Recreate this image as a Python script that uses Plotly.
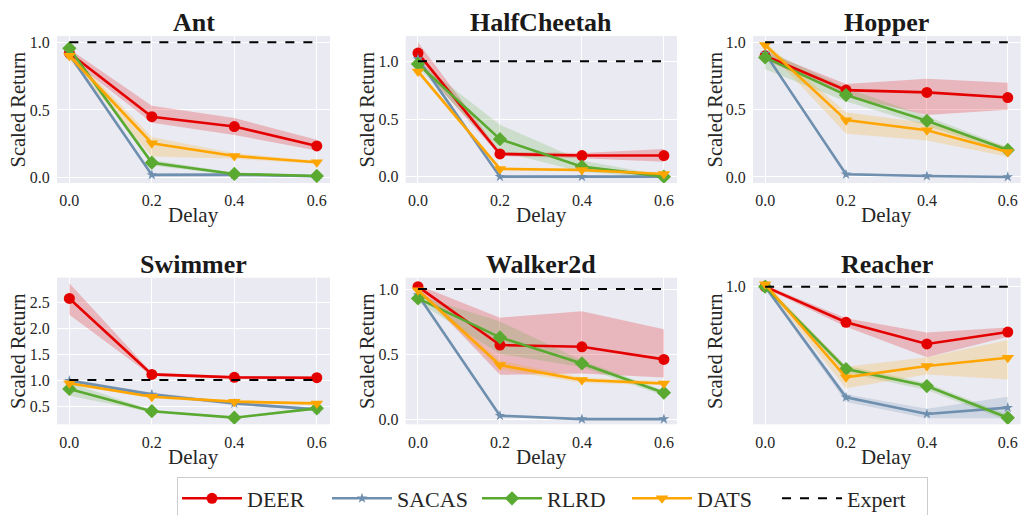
import plotly.graph_objects as go

delays = [0.0, 0.2, 0.4, 0.6]
x_ticks = [0.0, 0.2, 0.4, 0.6]
x_tick_text = ["0.0", "0.2", "0.4", "0.6"]
methods = ["DEER", "SACAS", "RLRD", "DATS"]
envs = ["Ant", "HalfCheetah", "Hopper", "Swimmer", "Walker2d", "Reacher"]
expert_level = 1.0

# ---- mean values / band bounds per environment ----
ant_mean = {"DEER": [0.92, 0.45, 0.377, 0.234], "SACAS": [0.91, 0.02, 0.022, 0.01],
            "RLRD": [0.955, 0.11, 0.027, 0.012], "DATS": [0.90, 0.254, 0.16, 0.113]}
ant_lo = {"DEER": [0.88, 0.406, 0.315, 0.20], "SACAS": [0.89, 0.01, 0.012, 0.0],
          "RLRD": [0.94, 0.09, 0.017, 0.005], "DATS": [0.87, 0.155, 0.14, 0.10]}
ant_hi = {"DEER": [0.95, 0.53, 0.44, 0.28], "SACAS": [0.93, 0.03, 0.032, 0.02],
          "RLRD": [0.965, 0.13, 0.037, 0.02], "DATS": [0.93, 0.30, 0.18, 0.125]}

hc_mean = {"DEER": [1.072, 0.197, 0.183, 0.183], "SACAS": [1.02, 0.0, 0.0, 0.0],
           "RLRD": [0.977, 0.325, 0.087, 0.0], "DATS": [0.913, 0.067, 0.058, 0.023]}
hc_lo = {"DEER": [0.98, 0.18, 0.16, 0.13], "SACAS": [1.0, -0.01, -0.01, -0.01],
         "RLRD": [0.95, 0.22, 0.04, -0.01], "DATS": [0.89, 0.055, 0.045, 0.012]}
hc_hi = {"DEER": [1.165, 0.215, 0.205, 0.24], "SACAS": [1.04, 0.01, 0.01, 0.01],
         "RLRD": [1.0, 0.45, 0.14, 0.01], "DATS": [0.935, 0.08, 0.07, 0.035]}

hop_mean = {"DEER": [0.90, 0.645, 0.628, 0.59], "SACAS": [0.918, 0.02, 0.007, 0.0],
            "RLRD": [0.888, 0.608, 0.417, 0.2], "DATS": [0.98, 0.422, 0.347, 0.186]}
hop_lo = {"DEER": [0.87, 0.60, 0.46, 0.50], "SACAS": [0.90, 0.01, 0.0, -0.005],
          "RLRD": [0.80, 0.56, 0.38, 0.18], "DATS": [0.96, 0.32, 0.27, 0.15]}
hop_hi = {"DEER": [0.93, 0.69, 0.73, 0.70], "SACAS": [0.935, 0.03, 0.015, 0.005],
          "RLRD": [0.95, 0.66, 0.45, 0.22], "DATS": [1.0, 0.48, 0.40, 0.22]}

swim_mean = {"DEER": [2.577, 1.11, 1.053, 1.047], "SACAS": [0.99, 0.725, 0.55, 0.436],
             "RLRD": [0.83, 0.40, 0.275, 0.455], "DATS": [0.94, 0.68, 0.584, 0.55]}
swim_lo = {"DEER": [2.26, 1.08, 1.03, 1.02], "SACAS": [0.96, 0.69, 0.52, 0.41],
           "RLRD": [0.70, 0.38, 0.26, 0.43], "DATS": [0.91, 0.65, 0.56, 0.53]}
swim_hi = {"DEER": [2.87, 1.14, 1.08, 1.07], "SACAS": [1.02, 0.76, 0.58, 0.46],
           "RLRD": [0.95, 0.42, 0.29, 0.48], "DATS": [0.97, 0.71, 0.61, 0.57]}

walk_mean = {"DEER": [1.018, 0.569, 0.556, 0.459], "SACAS": [0.954, 0.026, 0.0, 0.0],
             "RLRD": [0.928, 0.628, 0.428, 0.203], "DATS": [0.99, 0.415, 0.30, 0.274]}
walk_lo = {"DEER": [1.0, 0.34, 0.35, 0.32], "SACAS": [0.94, 0.016, -0.005, -0.005],
           "RLRD": [0.90, 0.50, 0.40, 0.18], "DATS": [0.97, 0.38, 0.28, 0.26]}
walk_hi = {"DEER": [1.03, 0.78, 0.83, 0.69], "SACAS": [0.97, 0.036, 0.005, 0.005],
           "RLRD": [0.95, 0.75, 0.45, 0.22], "DATS": [1.01, 0.45, 0.32, 0.29]}

reach_mean = {"DEER": [1.0, 0.793, 0.667, 0.736], "SACAS": [1.0, 0.357, 0.26, 0.297],
              "RLRD": [1.0, 0.521, 0.422, 0.238], "DATS": [1.014, 0.473, 0.539, 0.587]}
reach_lo = {"DEER": [0.99, 0.767, 0.589, 0.709], "SACAS": [0.99, 0.33, 0.235, 0.235],
            "RLRD": [0.99, 0.50, 0.40, 0.22], "DATS": [1.0, 0.409, 0.49, 0.461]}
reach_hi = {"DEER": [1.01, 0.816, 0.733, 0.763], "SACAS": [1.01, 0.375, 0.29, 0.36],
            "RLRD": [1.01, 0.54, 0.44, 0.255], "DATS": [1.025, 0.535, 0.59, 0.69]}

env_means = [ant_mean, hc_mean, hop_mean, swim_mean, walk_mean, reach_mean]
env_los = [ant_lo, hc_lo, hop_lo, swim_lo, walk_lo, reach_lo]
env_his = [ant_hi, hc_hi, hop_hi, swim_hi, walk_hi, reach_hi]

y_ranges = [[-0.04, 1.046], [-0.055, 1.22], [-0.045, 1.047],
            [0.147, 2.977], [-0.04, 1.087], [0.2, 1.052]]
y_ticks = [[0.0, 0.5, 1.0], [0.0, 0.5, 1.0], [0.0, 0.5, 1.0],
           [0.5, 1.0, 1.5, 2.0, 2.5], [0.0, 0.5, 1.0], [1.0]]

colors = {"DEER": "rgb(229,0,0)", "SACAS": "rgb(111,143,175)",
          "RLRD": "rgb(90,170,50)", "DATS": "rgb(255,165,0)"}
bands = {"DEER": "rgba(229,0,0,0.22)", "SACAS": "rgba(111,143,175,0.22)",
         "RLRD": "rgba(90,170,50,0.2)", "DATS": "rgba(255,165,0,0.2)"}
symbols = {"DEER": "circle", "SACAS": "star", "RLRD": "diamond", "DATS": "triangle-down"}
msizes = {"DEER": 11, "SACAS": 8, "RLRD": 11, "DATS": 11}

W, H = 1027, 515
col_px = [(57, 330), (405.7, 677), (753, 1020.7)]
row_px = [(36, 183), (277.7, 424.3)]
ylab_x = [18, 367, 715]
title_y = [22.7, 264]
xlab_y = [215, 457]

FONT = "Liberation Serif, Times New Roman, serif"
TXT = "#262626"

fig = go.Figure()
layout = dict(width=W, height=H, margin=dict(l=0, r=0, t=0, b=0, autoexpand=False),
              paper_bgcolor="white", plot_bgcolor="#eaeaf2",
              font=dict(family=FONT, color=TXT, size=16),
              annotations=[])

for i, env in enumerate(envs):
    r, c = divmod(i, 3)
    ax = "" if i == 0 else str(i + 1)
    xa, ya = "x" + ax, "y" + ax
    x0, x1 = col_px[c]
    t0, t1 = row_px[r]
    layout["xaxis" + ax] = dict(domain=[x0 / W, x1 / W], range=[-0.03, 0.632],
                                tickvals=x_ticks, ticktext=x_tick_text,
                                showgrid=True, gridcolor="white", gridwidth=1.3,
                                zeroline=False, showline=False, anchor=ya,
                                ticks="outside", ticklen=3, tickcolor="rgba(0,0,0,0)",
                                ticklabeloverflow="allow",
                                tickfont=dict(size=16, family=FONT, color=TXT))
    layout["yaxis" + ax] = dict(domain=[1 - t1 / H, 1 - t0 / H], range=y_ranges[i],
                                tickvals=y_ticks[i],
                                ticktext=["%.1f" % v for v in y_ticks[i]],
                                showgrid=True, gridcolor="white", gridwidth=1.3,
                                zeroline=False, showline=False, anchor=xa,
                                ticks="outside", ticklen=3, tickcolor="rgba(0,0,0,0)",
                                tickfont=dict(size=16, family=FONT, color=TXT))
    mean, lo, hi = env_means[i], env_los[i], env_his[i]
    for m in methods:
        fig.add_trace(go.Scatter(x=delays + delays[::-1], y=hi[m] + lo[m][::-1],
                                 fill="toself", fillcolor=bands[m], line=dict(width=0),
                                 mode="lines", hoverinfo="skip", showlegend=False,
                                 xaxis=xa, yaxis=ya))
    for m in methods:
        fig.add_trace(go.Scatter(x=delays, y=mean[m], mode="lines+markers", name=m,
                                 line=dict(color=colors[m], width=2.6),
                                 marker=dict(symbol=symbols[m], size=msizes[m], color=colors[m]),
                                 showlegend=(i == 0), legendgroup=m,
                                 xaxis=xa, yaxis=ya))
    fig.add_trace(go.Scatter(x=[delays[0], delays[-1]], y=[expert_level, expert_level],
                             mode="lines", name="Expert",
                             line=dict(color="black", width=2, dash="dash"),
                             showlegend=(i == 0), legendgroup="Expert",
                             xaxis=xa, yaxis=ya))
    cx = (x0 + x1) / 2 / W
    layout["annotations"] += [
        dict(text="<b>%s</b>" % env, x=cx, y=1 - title_y[r] / H, xref="paper", yref="paper",
             showarrow=False, xanchor="center", yanchor="middle",
             font=dict(size=26, family=FONT, color="#1a1a1a")),
        dict(text="Delay", x=cx, y=1 - xlab_y[r] / H, xref="paper", yref="paper",
             showarrow=False, xanchor="center", yanchor="middle",
             font=dict(size=21, family=FONT, color=TXT)),
        dict(text="Scaled Return", x=ylab_x[c] / W, y=1 - (t0 + t1) / 2 / H,
             xref="paper", yref="paper", textangle=-90,
             showarrow=False, xanchor="center", yanchor="middle",
             font=dict(size=20.5, family=FONT, color=TXT)),
    ]

layout["legend"] = dict(orientation="h", x=177 / W, xanchor="left",
                        y=1 - 476.5 / H, yanchor="top",
                        bgcolor="white", bordercolor="#cccccc", borderwidth=1,
                        font=dict(size=22, family=FONT, color=TXT),
                        entrywidth=75, itemwidth=60)
fig.update_layout(**layout)
fig.write_html("out.html", config={"displayModeBar": False},
               post_script="document.body.style.margin='0px';")
